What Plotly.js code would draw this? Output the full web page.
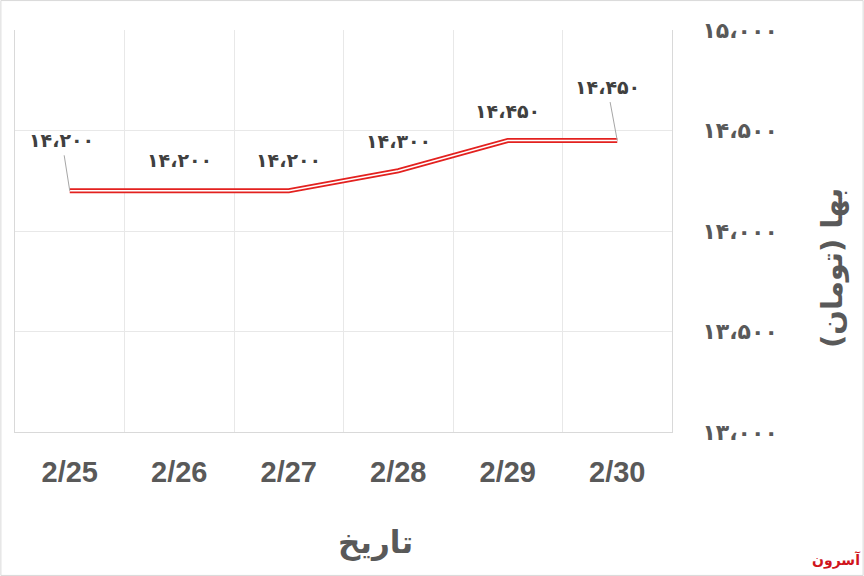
<!DOCTYPE html>
<html>
<head>
<meta charset="utf-8">
<script src="https://cdn.plot.ly/plotly-3.0.1.min.js"></script>
<style>html,body{margin:0;padding:0;background:#fff;}#chart{width:864px;height:576px;}</style>
</head>
<body>
<div id="chart"></div>
<script>
const dates = ["2/25", "2/26", "2/27", "2/28", "2/29", "2/30"];
const prices = [14200, 14200, 14200, 14300, 14450, 14450];
const priceLabels = ["۱۴،۲۰۰", "۱۴،۲۰۰", "۱۴،۲۰۰", "۱۴،۳۰۰", "۱۴،۴۵۰", "۱۴،۴۵۰"];
const yTickVals = [13000, 13500, 14000, 14500, 15000];
const yTickText = ["۱۳،۰۰۰", "۱۳،۵۰۰", "۱۴،۰۰۰", "۱۴،۵۰۰", "۱۵،۰۰۰"];
const xTitle = "تاریخ";
const yTitle = "بها (تومان)";
const logoText = "آسرون";

const arabicFont = "DejaVu Sans, Noto Sans, sans-serif";
const traces = [
  {x: dates, y: prices, type: "scatter", mode: "lines",
   line: {color: "#e3211f", width: 5}, hoverinfo: "skip"},
  {x: dates, y: prices, type: "scatter", mode: "lines",
   line: {color: "#ffffff", width: 1.5}, hoverinfo: "skip"}
];

// label placement: [showArrow, ax, ay, yshift]
const labelPlace = [
  [true, -8, -51, 0],
  [false, 0, 0, 31],
  [false, 0, 0, 31],
  [false, 0, 0, 30],
  [false, 0, 0, 30],
  [true, -10, -54, 0]
];
const annotations = dates.map((d, i) => {
  const p = labelPlace[i];
  const a = {
    x: d, y: prices[i], xref: "x", yref: "y", text: "<b>" + priceLabels[i] + "</b>",
    font: {family: arabicFont, size: 19, color: "#404040"},
    showarrow: p[0]
  };
  if (p[0]) {
    Object.assign(a, {ax: p[1], ay: p[2], axref: "pixel", ayref: "pixel",
      arrowhead: 0, arrowwidth: 1, arrowcolor: "#a6a6a6", borderpad: 4});
  } else {
    a.yshift = p[3];
  }
  return a;
});
annotations.push({
  xref: "paper", yref: "paper", x: 375/864, y: 1 - 542/576, xanchor: "center", yanchor: "middle",
  text: "<b>" + xTitle + "</b>",
  showarrow: false, font: {family: arabicFont, size: 31, color: "#595959"}
});
annotations.push({
  xref: "paper", yref: "paper", x: 832/864, y: 1 - 268/576, xanchor: "center", yanchor: "middle",
  text: "<b>" + yTitle + "</b>",
  showarrow: false, textangle: -90, font: {family: arabicFont, size: 29, color: "#595959"}
});
annotations.push({
  xref: "paper", yref: "paper", x: 836/864, y: 1 - 560/576, xanchor: "center", yanchor: "middle",
  text: "<b>" + logoText + "</b>",
  showarrow: false, font: {family: arabicFont, size: 14, color: "#d0141c"}
});

const layout = {
  width: 864, height: 576,
  margin: {l: 0, r: 0, t: 0, b: 0},
  paper_bgcolor: "#ffffff", plot_bgcolor: "#ffffff",
  showlegend: false,
  xaxis: {
    type: "category", domain: [15/864, 672/864], range: [-0.5, 5.5],
    tickson: "boundaries", showgrid: true, gridcolor: "#e8e8e8", gridwidth: 1,
    ticks: "", showline: true, linecolor: "#d9d9d9", linewidth: 1,
    tickfont: {family: "Liberation Sans, Arial, sans-serif", size: 29, color: "#595959", weight: "bold"},
    ticklabelstandoff: 14, zeroline: false, fixedrange: true
  },
  yaxis: {
    domain: [144/576, 546/576], range: [13000, 15000], side: "right",
    tickvals: yTickVals, ticktext: yTickText,
    showgrid: true, gridcolor: "#e8e8e8", gridwidth: 1,
    ticks: "", showline: true, mirror: true, linecolor: "#d9d9d9", linewidth: 1,
    tickfont: {family: arabicFont, size: 22, color: "#595959", weight: "bold"},
    ticklabelstandoff: 25, zeroline: false, fixedrange: true
  },
  annotations: annotations,
  shapes: [{type: "rect", xref: "paper", yref: "paper", x0: 0.001, y0: 0.001, x1: 0.999, y1: 0.999,
    line: {color: "#d9d9d9", width: 1}}]
};
Plotly.newPlot("chart", traces, layout, {staticPlot: true});
</script>
</body>
</html>
